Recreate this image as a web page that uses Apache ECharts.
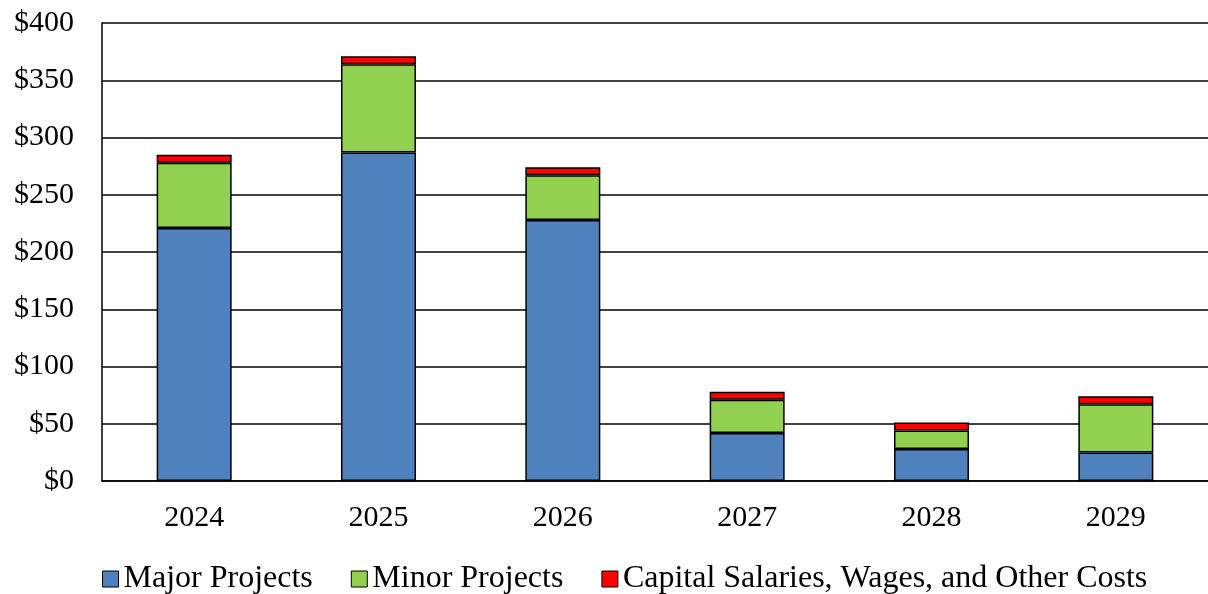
<!DOCTYPE html>
<html>
<head>
<meta charset="utf-8">
<script src="https://cdn.jsdelivr.net/npm/echarts@6/dist/echarts.min.js"></script>
<style>
  html, body { margin: 0; padding: 0; background: #fff; }
  #chart { width: 1208px; height: 594px; }
</style>
</head>
<body>
<div id="chart"></div>
<script>
const years = ['2024', '2025', '2026', '2027', '2028', '2029'];
const majorProjects = [221, 287, 228, 42, 28, 25];
const minorProjects = [57, 77, 39, 29, 16, 42];
const capitalCosts = [7, 7, 7, 7, 7, 7];
const yTicks = [0, 50, 100, 150, 200, 250, 300, 350, 400];

const chart = echarts.init(document.getElementById('chart'));

function barSeries(name, data, color) {
  return {
    name: name,
    type: 'bar',
    stack: 'total',
    barWidth: 75,
    data: data,
    itemStyle: { color: color, borderColor: '#000', borderWidth: 1.5 }
  };
}

const option = {
  animation: false,
  textStyle: { fontFamily: 'Liberation Serif' },
  grid: { left: 102, right: -6, top: 23, bottom: 113 },
  legend: {
    top: 558,
    left: 97,
    itemWidth: 16,
    itemHeight: 16,
    itemGap: 38,
    icon: 'rect',
    textStyle: { fontSize: 32, color: '#000', fontFamily: 'Liberation Serif' },
    itemStyle: { borderColor: '#000', borderWidth: 1 }
  },
  xAxis: {
    type: 'category',
    data: years,
    axisTick: { show: false },
    axisLine: { lineStyle: { color: '#000', width: 1.5 } },
    axisLabel: { fontSize: 30, color: '#000', margin: 22 }
  },
  yAxis: {
    type: 'value',
    min: yTicks[0],
    max: yTicks[yTicks.length - 1],
    interval: 50,
    axisLine: { show: true, lineStyle: { color: '#000', width: 1.5 } },
    axisTick: { show: false },
    splitLine: { lineStyle: { color: '#000', width: 1.5 } },
    axisLabel: { fontSize: 30, color: '#000', margin: 28, formatter: v => '$' + v }
  },
  series: [
    barSeries('Major Projects', majorProjects, '#4f81bd'),
    barSeries('Minor Projects', minorProjects, '#92d050'),
    barSeries('Capital Salaries, Wages, and Other Costs', capitalCosts, '#ff0000')
  ]
};

chart.setOption(option);
</script>
</body>
</html>
